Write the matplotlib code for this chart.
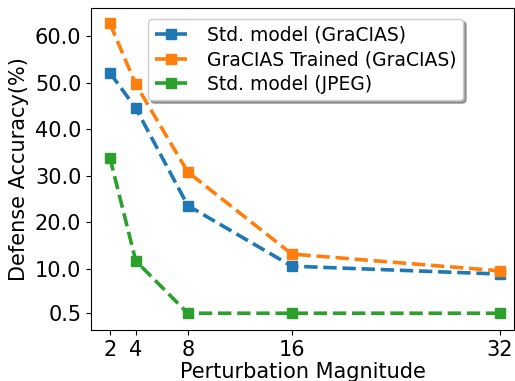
import matplotlib
matplotlib.use('Agg')
import matplotlib.pyplot as plt

magnitudes = [2, 4, 8, 16, 32]
std_gracias = [52.1, 44.5, 23.6, 10.6, 8.9]
trained_gracias = [62.7, 49.6, 30.8, 13.2, 9.6]
std_jpeg = [33.9, 11.7, 0.5, 0.5, 0.5]
y_ticks = [0.5, 10, 20, 30, 40, 50, 60]
labels = ['Std. model (GraCIAS)', 'GraCIAS Trained (GraCIAS)', 'Std. model (JPEG)']

fig = plt.figure(figsize=(5.15, 3.81), dpi=100)
ax = fig.add_axes([91 / 515, 51 / 381, 423 / 515, 322 / 381])

for vals, lab in zip([std_gracias, trained_gracias, std_jpeg], labels):
    ax.plot(magnitudes, vals, '--s', linewidth=2.6, markersize=7, label=lab)

ax.set_xticks(magnitudes)
ax.set_yticks(y_ticks)
ax.set_yticklabels(['%.1f' % t for t in y_ticks])
ax.set_xlim(0.55, 33.1)
ax.set_ylim(-3.1, 66.0)
ax.tick_params(labelsize=15)
ax.set_xlabel('Perturbation Magnitude', fontsize=15, labelpad=2)
ax.set_ylabel('Defense Accuracy(%)', fontsize=15)
ax.legend(loc='upper right', bbox_to_anchor=(0.88, 0.966), borderaxespad=0,
          shadow=True, fontsize=13.5, handlelength=1.7, handletextpad=1.1,
          labelspacing=0.3, borderpad=0.35)

fig.savefig('out.png', dpi=100)
